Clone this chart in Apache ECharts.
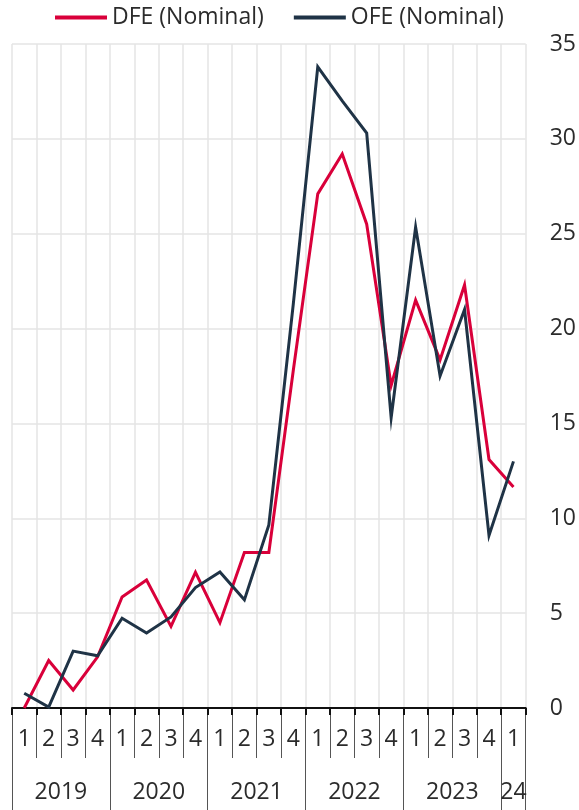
<!DOCTYPE html>
<html>
<head>
<meta charset="utf-8">
<script src="https://cdn.jsdelivr.net/npm/echarts@6/dist/echarts.min.js"></script>
<style>
html,body{margin:0;padding:0;background:#fff;}
#chart{width:579px;height:810px;}
</style>
</head>
<body>
<div id="chart"></div>
<script>
// Data
var quarters = ['1','2','3','4','1','2','3','4','1','2','3','4','1','2','3','4','1','2','3','4','1'];
var years = ['2019','2020','2021','2022','2023','24'];
var yearQuarterCounts = [4,4,4,4,4,1];
var dfe = [0.0, 2.5, 0.95, 2.7, 5.85, 6.75, 4.3, 7.15, 4.5, 8.2, 8.2, 17.8, 27.1, 29.2, 25.5, 17.0, 21.5, 18.35, 22.3, 13.1, 11.65];
var ofe = [0.78, 0.05, 3.0, 2.75, 4.73, 3.95, 4.8, 6.35, 7.17, 5.7, 9.65, 21.3, 33.8, 32.0, 30.3, 15.3, 25.35, 17.5, 21.0, 9.1, 13.0];
var yTicks = [0,5,10,15,20,25,30,35];

// Build half-quarter slots for the year axis
var totalHalf = quarters.length * 2;
var yearSlots = [];
for (var i = 0; i <= totalHalf; i++) yearSlots.push('');
var boundaries = {0: true};
var pos = 0;
for (var y = 0; y < years.length; y++) {
  var w = yearQuarterCounts[y] * 2;
  yearSlots[pos + w / 2] = years[y];
  pos += w;
  boundaries[pos] = true;
}

var font = 'Open Sans';
var fs = 23;
var textColor = '#2b2b2b';
var chart = echarts.init(document.getElementById('chart'));
chart.setOption({
  animation: false,
  textStyle: {fontFamily: font},
  legend: {
    left: 50, top: 1,
    itemWidth: 52, itemHeight: 4, itemGap: 30,
    icon: 'rect',
    textStyle: {fontFamily: font, fontSize: fs, color: textColor},
    data: ['DFE (Nominal)', 'OFE (Nominal)']
  },
  grid: {left: 12, right: 49, top: 44, bottom: 102},
  xAxis: [
    {
      type: 'category', data: quarters, boundaryGap: true, position: 'bottom',
      axisLine: {show: true, lineStyle: {color: '#111', width: 2}},
      axisTick: {show: true, interval: 0, length: 50, lineStyle: {color: '#555', width: 1}},
      axisLabel: {interval: 0, margin: 20, fontSize: fs, color: textColor, fontFamily: font},
      splitLine: {show: true, interval: 0, lineStyle: {color: '#e4e4e4', width: 1.5}}
    },
    {
      type: 'category', data: yearSlots, boundaryGap: false, position: 'bottom', gridIndex: 0,
      axisLine: {show: false},
      axisTick: {show: true, length: 102, interval: function (idx) { return !!boundaries[idx]; }, lineStyle: {color: '#555', width: 1}},
      axisLabel: {interval: 0, margin: 73, fontSize: fs, color: textColor, fontFamily: font},
      splitLine: {show: false}
    },
    {
      type: 'category', data: quarters, boundaryGap: true, position: 'bottom',
      axisLine: {show: false},
      axisTick: {show: true, interval: 0, length: 7, lineStyle: {color: '#111', width: 2}},
      axisLabel: {show: false},
      splitLine: {show: false}
    }
  ],
  yAxis: {
    type: 'value', position: 'right', min: yTicks[0], max: yTicks[yTicks.length - 1], interval: 5,
    axisLine: {show: false}, axisTick: {show: false},
    axisLabel: {margin: 24, align: 'left', fontSize: fs, color: textColor, fontFamily: font},
    splitLine: {show: true, lineStyle: {color: '#e4e4e4', width: 1.5}}
  },
  series: [
    {
      name: 'DFE (Nominal)', type: 'line', data: dfe, xAxisIndex: 0,
      symbol: 'none', color: '#d9003a',
      lineStyle: {width: 3, color: '#d9003a', join: 'miter'}
    },
    {
      name: 'OFE (Nominal)', type: 'line', data: ofe, xAxisIndex: 0,
      symbol: 'none', color: '#1f3346',
      lineStyle: {width: 3, color: '#1f3346', join: 'miter'}
    }
  ]
});
</script>
</body>
</html>
